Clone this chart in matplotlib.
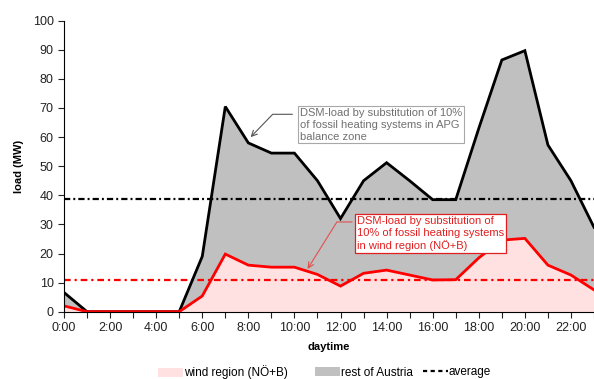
import matplotlib.pyplot as plt
from matplotlib.patches import Patch
from matplotlib.lines import Line2D

plt.rcParams['font.family'] = ['Liberation Sans', 'DejaVu Sans']
plt.rcParams['lines.scale_dashes'] = False

# hourly DSM load (MW)
hours = list(range(24))
wind = [2.0, 0, 0, 0, 0, 0, 5.4, 19.8, 16.0, 15.3, 15.3, 12.8,
        8.8, 13.2, 14.3, 12.6, 10.9, 11.0, 18.5, 24.6, 25.2, 16.0, 12.6, 7.5]
total = [6.6, 0, 0, 0, 0, 0, 19.0, 70.5, 58.0, 54.5, 54.5, 45.0,
         32.0, 45.0, 51.2, 45.0, 38.5, 38.5, 63.0, 86.5, 89.7, 57.3, 45.0, 29.0]
avg_total = 38.6
avg_wind = 10.9

xticklabels = ["%d:00" % h if h % 2 == 0 else "" for h in hours]
yticks = list(range(0, 101, 10))

pink = "#ffe1e1"
grey = "#c0c0c0"

fig = plt.figure(figsize=(5.94, 3.79), dpi=100)
ax = fig.add_axes([64 / 594, 1 - 311.7 / 379, 530 / 594, 291 / 379])

ax.fill_between(hours, 0, wind, color=pink, lw=0)
ax.fill_between(hours, wind, total, color=grey, lw=0)

ax.axhline(avg_total, color="black", lw=1.6, dashes=(4.5, 2.2, 1.4, 2.2))
ax.axhline(avg_wind, color="red", lw=1.6, dashes=(4.8, 2.8, 1.6, 2.8))

ax.plot(hours, total, color="black", lw=2.0, solid_joinstyle="miter")
ax.plot(hours, wind, color="red", lw=2.0, solid_joinstyle="miter")

ax.set_xlim(0, 22.5)
ax.set_ylim(0, 100)
ax.set_xticks(hours)
ax.set_xticklabels(xticklabels)
ax.set_yticks(yticks)
ax.tick_params(direction="out", length=4, width=0.8, labelsize=9, pad=3.5,
               colors="#222222")
for side in ["top", "right"]:
    ax.spines[side].set_visible(False)
for side in ["left", "bottom"]:
    ax.spines[side].set_linewidth(0.8)

ax.set_xlabel("daytime", fontsize=8, fontweight="bold", labelpad=6)
ax.set_ylabel("load (MW)", fontsize=8, fontweight="bold", labelpad=6)

ax.annotate("DSM-load by substitution of 10%\nof fossil heating systems in APG\nbalance zone",
            xy=(8.1, 60.0), xycoords="data",
            xytext=(300, 379 - 107.5), textcoords="figure pixels",
            ha="left", va="top", fontsize=8, color="#707070", linespacing=1.25,
            bbox=dict(boxstyle="square,pad=0.15", fc="white", ec="#a8a8a8", lw=0.8),
            arrowprops=dict(arrowstyle="->,head_length=0.5,head_width=0.25",
                            color="#555555", lw=0.8, relpos=(0, 0.8), shrinkA=4, shrinkB=0,
                            connectionstyle="angle,angleA=0,angleB=46,rad=0"))

ax.annotate("DSM-load by substitution of\n10% of fossil heating systems\nin wind region (NÖ+B)",
            xy=(10.57, 14.7), xycoords="data",
            xytext=(357, 379 - 216), textcoords="figure pixels",
            ha="left", va="top", fontsize=8, color="#e02020", linespacing=1.25,
            bbox=dict(boxstyle="square,pad=0.15", fc="white", ec="#e02020", lw=0.9),
            arrowprops=dict(arrowstyle="->,head_length=0.5,head_width=0.25",
                            color="#e05050", lw=0.8, relpos=(0, 0.83), shrinkA=2, shrinkB=0,
                            connectionstyle="angle,angleA=0,angleB=58,rad=0"))

# legend entries sit in one row under the axis label
entries = [
    (Patch(color=pink, lw=0), "wind region (NÖ+B)", 158),
    (Patch(color=grey, lw=0), "rest of Austria", 315),
    (Line2D([], [], color="black", lw=1.6, dashes=(3, 2.5)), "average", 423),
]
for handle, label, x0 in entries:
    fig.legend([handle], [label], loc="center left",
               bbox_to_anchor=(x0 / 594, 1 - 372.5 / 379),
               frameon=False, fontsize=8.5, handlelength=2.1, handleheight=0.8,
               handletextpad=0.1, borderpad=0, borderaxespad=0)

fig.savefig("out.png", dpi=100)
